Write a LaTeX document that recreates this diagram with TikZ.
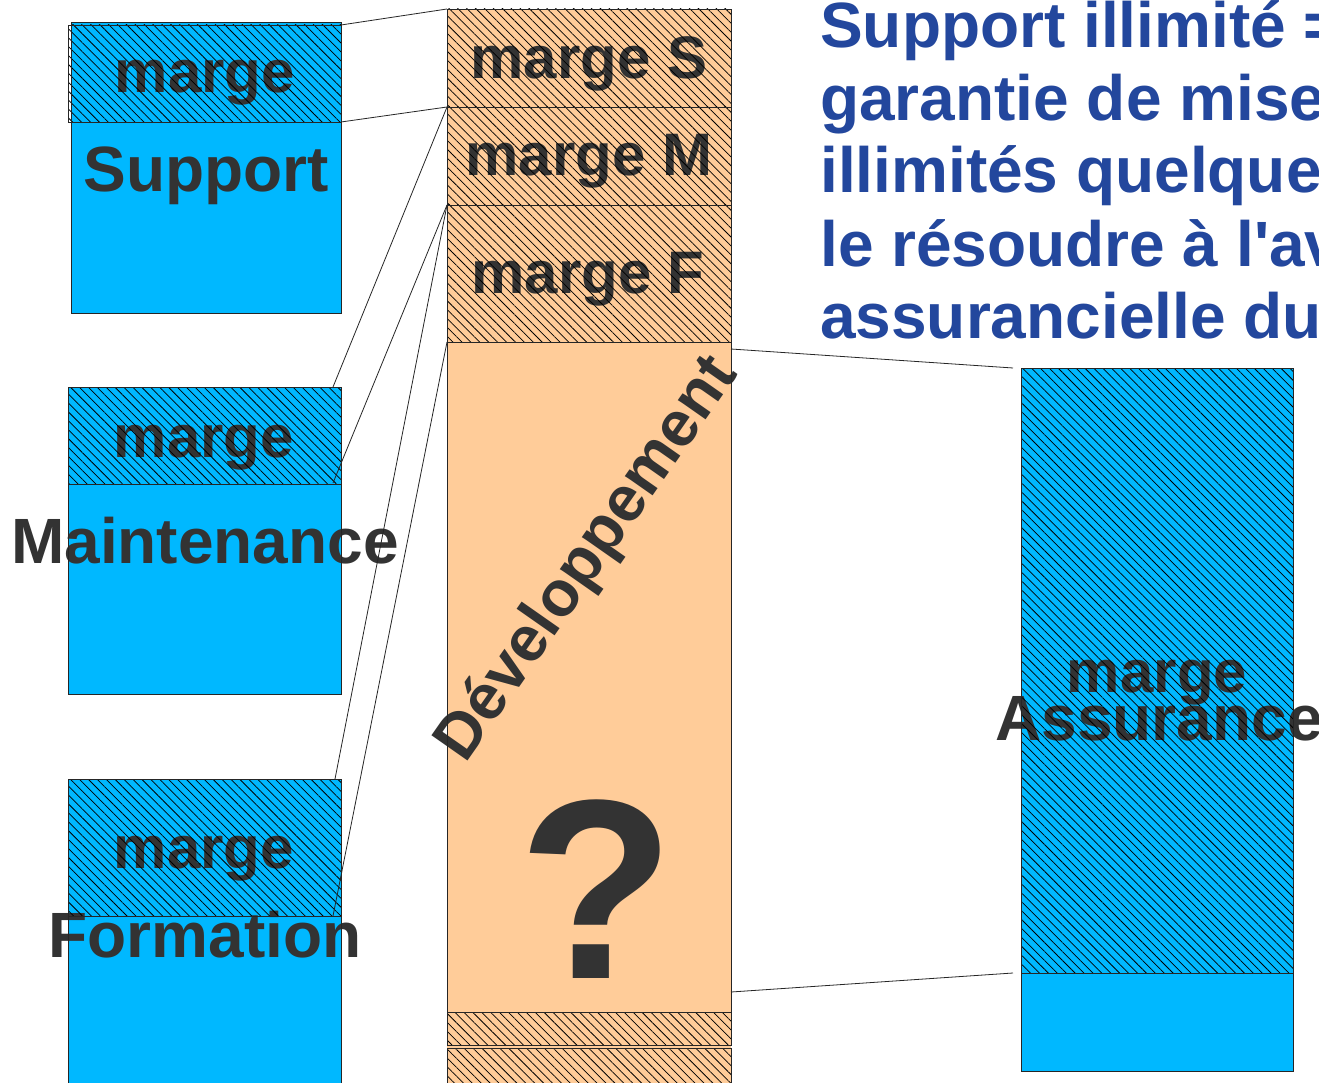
\documentclass[tikz,border=0pt]{standalone}
\usepackage{fontspec}
\setmainfont{Liberation Sans}[Ligatures=TeXOff]
\usetikzlibrary{patterns.meta}
\definecolor{cblue}{HTML}{00B8FF}
\definecolor{corange}{HTML}{FFCC99}
\definecolor{ctext}{HTML}{333333}
\definecolor{ctitle}{HTML}{23479D}
\tikzset{
  rect/.style={inner sep=0pt, outer sep=0pt, anchor=north west},
  hatch/.style={pattern={Lines[angle=-45,distance=6.3pt,line width=0.75pt]}, pattern color=black},
  bx/.style={draw=black!85, line width=0.8pt},
  lbl/.style={anchor=base, inner sep=0pt, text=ctext, font=\bfseries\fontsize{60}{70}\selectfont},
  big/.style={anchor=base, inner sep=0pt, text=ctext, font=\bfseries\fontsize{64}{72}\selectfont},
  ttl/.style={anchor=base west, inner sep=0pt, text=ctitle, font=\bfseries\fontsize{64}{72}\selectfont},
  link/.style={draw=black!85, line width=0.8pt},
}
\begin{document}
\begin{tikzpicture}[x=1pt,y=-1pt]
\clip (0,0) rectangle (1319,1083);
\fill[white] (0,0) rectangle (1319,1083);

% ---- boxes (fills)
\node[rect, fill=cblue, minimum width=270, minimum height=291] (sup) at (71,22) {};
\node[rect, minimum width=273, minimum height=97] (supm) at (68,25) {};
\node[rect, fill=cblue, minimum width=273, minimum height=307] (mai) at (68,387) {};
\node[rect, minimum width=273, minimum height=97] (maim) at (68,387) {};
\node[rect, fill=cblue, minimum width=273, minimum height=320] (for) at (68,779) {};
\node[rect, minimum width=273, minimum height=137] (form) at (68,779) {};
\node[rect, fill=cblue, minimum width=272, minimum height=703] (ass) at (1021,368) {};
\node[rect, minimum width=272, minimum height=605] (assm) at (1021,368) {};

\node[rect, fill=corange, minimum width=284, minimum height=1090] (col) at (447,9) {};
\node[rect, minimum width=284, minimum height=98] (mS) at (447,9) {};
\node[rect, minimum width=284, minimum height=98] (mM) at (447,107) {};
\node[rect, minimum width=284, minimum height=137] (mF) at (447,205) {};
\node[rect, minimum width=284, minimum height=670] (dev) at (447,342) {};
\node[rect, minimum width=284, minimum height=33] (b1) at (447,1012) {};
\node[rect, minimum width=284, minimum height=45] (b2) at (447,1048) {};

% ---- labels (under the hatching)
\node[lbl] (lsup) at (205,93) {marge};
\node[big] (tsup) at (206,192) {Support};
\node[lbl] (lmai) at (204,457) {marge};
\node[big] (tmai) at (205,563) {Maintenance};
\node[lbl] (lfor) at (204,868) {marge};
\node[big] (tfor) at (205,957) {Formation};
\node[lbl] (lS) at (589,79) {marge S};
\node[lbl] (lM) at (589,176) {marge M};
\node[lbl] (lF) at (588,294) {marge F};
\node[lbl] (lass) at (1157,692) {marge};
\node[big] (tass) at (1159,740) {Assurance};
\node[big, anchor=center, rotate=55] (tdev) at (588,560) {Développement};
\node[anchor=base, inner sep=0pt, text=ctext, font=\bfseries\fontsize{256}{256}\selectfont] (q) at (597,978) {?};

% ---- hatching
\foreach \n in {supm,maim,form,assm,mS,mM,mF,b1,b2}
  \path[hatch] (\n.north west) rectangle (\n.south east);

% ---- outlines
\foreach \n in {sup,supm,mai,maim,for,form,ass,assm,mS,mM,mF,dev,b1,b2}
  \draw[bx] (\n.north west) rectangle (\n.south east);

% ---- title
\node[ttl] (t1) at (820,48) {Support illimité =};
\node[ttl] (t2) at (820,121) {garantie de mise};
\node[ttl] (t3) at (820,193) {illimités quelque};
\node[ttl] (t4) at (820,266) {le résoudre à l'av};
\node[ttl] (t5) at (820,338) {assurancielle du};

% ---- connectors
\coordinate (pA) at (333,387);
\coordinate (pB) at (333,483);
\coordinate (pC) at (335,779);
\coordinate (pD) at (333,916);
\coordinate (pE0) at (731,349);
\coordinate (pE) at (1013,368);
\coordinate (pF0) at (731,992);
\coordinate (pF) at (1013,973);
\draw[link] (mS.north west) -- (supm.north east);
\draw[link] (mS.south west) -- (supm.south east);
\draw[link] (mS.south west) -- (pA);
\draw[link] (mM.south west) -- (pB);
\draw[link] (mM.south west) -- (pC);
\draw[link] (mF.south west) -- (pD);
\draw[link] (pE0) -- (pE);
\draw[link] (pF0) -- (pF);
\end{tikzpicture}
\end{document}
